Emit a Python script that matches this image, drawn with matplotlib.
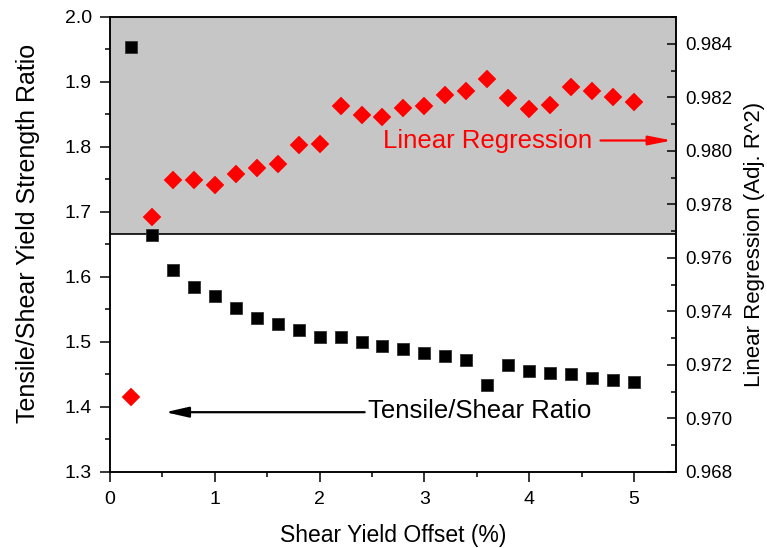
import numpy as np
import matplotlib.pyplot as plt

plt.rcParams['font.family'] = ['Liberation Sans', 'DejaVu Sans']

# shear yield offset (%)
offset = [0.2, 0.4, 0.6, 0.8, 1.0, 1.2, 1.4, 1.6, 1.8, 2.0, 2.2, 2.4, 2.6,
          2.8, 3.0, 3.2, 3.4, 3.6, 3.8, 4.0, 4.2, 4.4, 4.6, 4.8, 5.0]

# tensile / shear yield strength ratio
ratio = [1.954, 1.665, 1.610, 1.585, 1.570, 1.553, 1.537, 1.527, 1.518,
         1.507, 1.508, 1.500, 1.494, 1.489, 1.483, 1.478, 1.473, 1.434,
         1.464, 1.455, 1.453, 1.451, 1.445, 1.441, 1.438]

# adjusted R^2 of the linear fit
adj_r2 = [0.97081, 0.97752, 0.97892, 0.97892, 0.97873, 0.97915, 0.97935,
          0.97952, 0.98022, 0.98026, 0.98168, 0.98135, 0.98125, 0.98159,
          0.98166, 0.98210, 0.98222, 0.98268, 0.98196, 0.98156, 0.98173,
          0.98237, 0.98225, 0.98200, 0.98181]

shade_from = 1.6665

fig = plt.figure(figsize=(7.67, 5.48), dpi=100)
ax = fig.add_axes([0.1434, 0.1387, 0.7379, 0.8303])
ax2 = ax.twinx()

ax.axhspan(shade_from, 2.0, color='#c6c6c6', zorder=0, lw=0)
ax.axhline(shade_from, color='black', lw=1.2, zorder=1)

ax.plot(offset, ratio, ls='none', marker='s', ms=8.6, mfc='black',
        mec='#333333', mew=0.6, zorder=3)
ax2.plot(offset, adj_r2, ls='none', marker='D', ms=9.0, mfc='red',
         mec='red', mew=0.3, zorder=3)

ax.set_xlim(0, 5.4)
ax.set_ylim(1.3, 2.0)
ax2.set_ylim(0.968, 0.98497)

ax.set_xticks(np.arange(0, 5.1, 1))
ax.set_xticks(np.arange(0.5, 5.1, 1), minor=True)
ax.set_yticks(np.arange(1.3, 2.01, 0.1))
ax.set_yticks(np.arange(1.35, 2.0, 0.1), minor=True)
ax2.set_yticks(np.arange(0.968, 0.9845, 0.002))
ax2.set_yticks(np.arange(0.969, 0.9855, 0.002), minor=True)
ax2.set_yticklabels(['%.3f' % v for v in np.arange(0.968, 0.9845, 0.002)])
ax.set_yticklabels(['%.1f' % v for v in np.arange(1.3, 2.01, 0.1)])

ax.tick_params(axis='both', which='major', direction='out', length=7,
               width=1.1, labelsize=14, top=False, right=False)
ax.tick_params(axis='y', which='major', pad=6)
ax.tick_params(axis='x', which='major', pad=6.5)
ax.tick_params(axis='both', which='minor', direction='out', length=3.5,
               width=1.1, top=False, right=False)
ax2.tick_params(axis='y', which='major', direction='in', length=6.5,
                width=1.1, labelsize=13.5, pad=7)
ax2.tick_params(axis='y', which='minor', direction='in', length=3.5,
                width=1.1)
for a in (ax, ax2):
    for s in a.spines.values():
        s.set_linewidth(1.1)

ax.set_xlabel('Shear Yield Offset (%)', fontsize=16.5, labelpad=12)
ax.set_ylabel('Tensile/Shear Yield Strength Ratio', fontsize=18,
              labelpad=16)
ax.yaxis.set_label_coords(-0.123, 0.524)
ax2.set_ylabel('Linear Regression (Adj. R^2)', fontsize=16, labelpad=8)

ax.text(3.6, 1.809, 'Linear Regression', color='red', fontsize=18.5,
        ha='center', va='center', zorder=4)
ax.annotate('', xy=(5.36, 1.81), xytext=(4.68, 1.81),
            arrowprops=dict(arrowstyle='-|>,head_length=1.4,head_width=0.28',
                            color='red', lw=1.6, shrinkA=0, shrinkB=0),
            zorder=4)

ax.text(3.53, 1.394, 'Tensile/Shear Ratio', color='black', fontsize=18.5,
        ha='center', va='center', zorder=4)
ax.annotate('', xy=(0.53, 1.392), xytext=(2.43, 1.392),
            arrowprops=dict(arrowstyle='-|>,head_length=1.4,head_width=0.32',
                            color='black', lw=1.6, shrinkA=0, shrinkB=0),
            zorder=4)

fig.savefig('out.png', dpi=100)
